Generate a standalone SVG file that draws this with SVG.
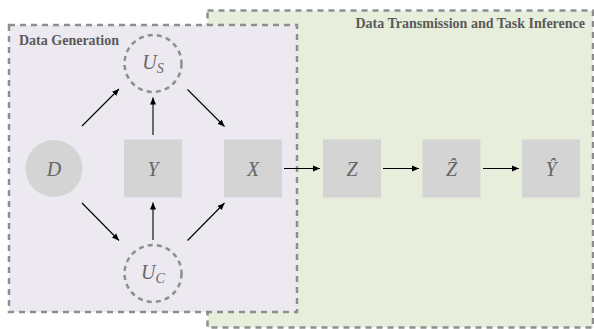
<svg xmlns="http://www.w3.org/2000/svg" width="594" height="329" viewBox="0 0 594 329">
<style>
.box{stroke:#8e8e8e;stroke-width:2.5;stroke-dasharray:6,5}
.title{font-family:"Liberation Serif",serif;font-weight:bold;font-size:14px;fill:#5a5a5a}
.node{fill:#d4d4d4}
.dnode{fill:none;stroke:#8e8e8e;stroke-width:2.5;stroke-dasharray:5,4.2}
.lbl{font-family:"Liberation Serif",serif;font-style:italic;font-size:20px;fill:#666;text-anchor:middle}
.sub{font-size:14px}
.edge{stroke:#000;stroke-width:1.1;fill:none;marker-end:url(#ah)}
</style>
<defs>
<marker id="ah" markerUnits="userSpaceOnUse" markerWidth="8" markerHeight="8" viewBox="0 0 8 8" refX="7" refY="4" orient="auto">
<path d="M0,1 L7,4 L0,7 Z" fill="#000"/>
</marker>
</defs>
<g id="group-transmission">
<rect class="box" x="207.5" y="10.5" width="385.5" height="317" fill="#e7eedc"/>
<text class="title" x="585" y="28" text-anchor="end">Data Transmission and Task Inference</text>
</g>
<g id="group-generation">
<rect class="box" x="9" y="25" width="288" height="287" fill="#ece9f1"/>
<text class="title" x="19" y="45">Data Generation</text>
</g>
<g id="edges">
<line class="edge" x1="82" y1="126" x2="119" y2="89"/>
<line class="edge" x1="153" y1="135" x2="153" y2="97.5"/>
<line class="edge" x1="187.5" y1="89.5" x2="224.5" y2="126.5"/>
<line class="edge" x1="82" y1="203" x2="119" y2="240.5"/>
<line class="edge" x1="153" y1="240" x2="153" y2="202.5"/>
<line class="edge" x1="187.5" y1="240.5" x2="224.5" y2="203"/>
<line class="edge" x1="284" y1="168.5" x2="320" y2="168.5"/>
<line class="edge" x1="383" y1="168.5" x2="419" y2="168.5"/>
<line class="edge" x1="483" y1="168.5" x2="519" y2="168.5"/>
</g>
<g id="node-D">
<circle class="node" cx="54" cy="168.5" r="28.5"/>
<text class="lbl" x="54" y="175.5">D</text>
</g>
<g id="node-Y">
<rect class="node" x="124" y="139.5" width="58" height="58"/>
<text class="lbl" x="153" y="175.5">Y</text>
</g>
<g id="node-X">
<rect class="node" x="224" y="139.5" width="58" height="58"/>
<text class="lbl" x="253" y="175.5">X</text>
</g>
<g id="node-US">
<circle class="dnode" cx="153" cy="63.5" r="28.5"/>
<text class="lbl" x="153" y="69">U<tspan class="sub" dy="4">S</tspan></text>
</g>
<g id="node-UC">
<circle class="dnode" cx="153" cy="273.5" r="28.5"/>
<text class="lbl" x="153" y="279">U<tspan class="sub" dy="4">C</tspan></text>
</g>
<g id="node-Z">
<rect class="node" x="323" y="139.5" width="58" height="58"/>
<text class="lbl" x="352" y="175.5">Z</text>
</g>
<g id="node-Zhat">
<rect class="node" x="422.5" y="139.5" width="58" height="58"/>
<text class="lbl" x="451.5" y="175.5">Ẑ</text>
</g>
<g id="node-Yhat">
<rect class="node" x="522" y="139.5" width="58" height="58"/>
<text class="lbl" x="551" y="175.5">Ŷ</text>
</g>
</svg>
